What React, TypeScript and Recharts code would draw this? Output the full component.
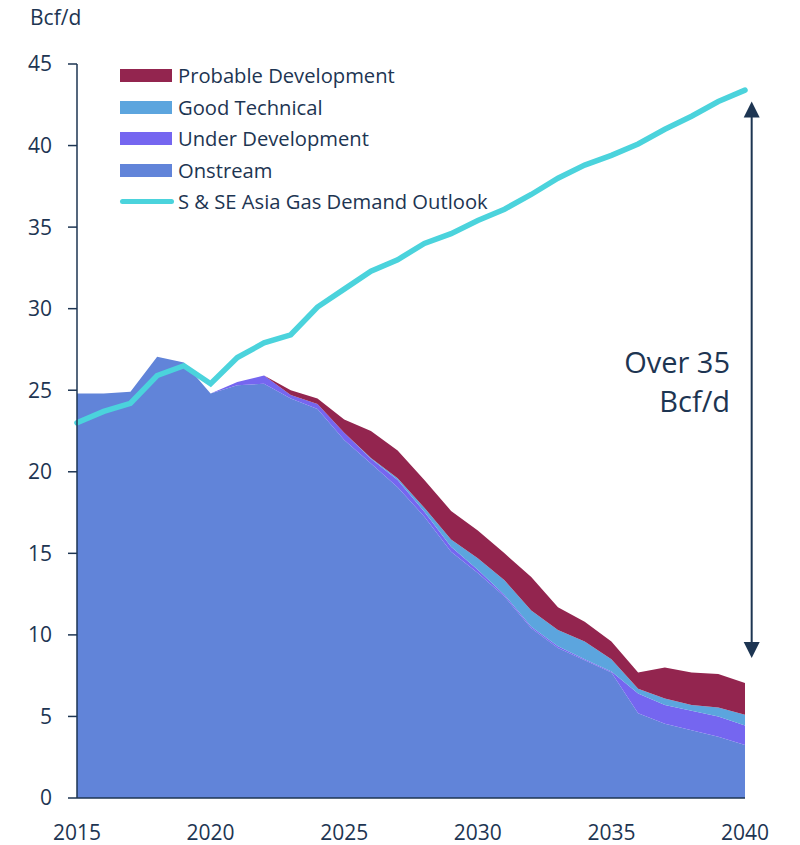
import { ComposedChart, Area, Line, XAxis, YAxis, Legend, ReferenceLine, ReferenceDot } from "recharts"

const years = [2015, 2016, 2017, 2018, 2019, 2020, 2021, 2022, 2023, 2024, 2025, 2026, 2027, 2028, 2029, 2030, 2031, 2032, 2033, 2034, 2035, 2036, 2037, 2038, 2039, 2040]
const onstream = [24.8, 24.8, 24.9, 27.05, 26.7, 24.8, 25.3, 25.4, 24.5, 23.85, 21.95, 20.5, 19.05, 17.25, 15.1, 13.8, 12.35, 10.4, 9.2, 8.45, 7.7, 5.2, 4.55, 4.15, 3.75, 3.25]
const underDevelopment = [0, 0, 0, 0, 0, 0, 0.2, 0.5, 0.2, 0.3, 0.45, 0.3, 0.45, 0.3, 0.3, 0.2, 0.1, 0.1, 0.1, 0.05, 0.05, 1.2, 1.15, 1.2, 1.25, 1.2]
const goodTechnical = [0, 0, 0, 0, 0, 0, 0, 0, 0, 0, 0, 0.05, 0.1, 0.25, 0.45, 0.7, 0.9, 1.0, 1.0, 1.1, 0.75, 0.3, 0.4, 0.35, 0.55, 0.65]
const probableDevelopment = [0, 0, 0, 0, 0, 0, 0, 0, 0.3, 0.35, 0.8, 1.65, 1.7, 1.7, 1.75, 1.7, 1.65, 2.05, 1.4, 1.2, 1.1, 1.0, 1.9, 2.0, 2.05, 1.95]
const demandOutlook = [23.0, 23.7, 24.2, 25.9, 26.5, 25.4, 27.0, 27.9, 28.4, 30.1, 31.2, 32.3, 33.0, 34.0, 34.6, 35.4, 36.1, 37.0, 38.0, 38.8, 39.4, 40.1, 41.0, 41.8, 42.7, 43.4]

const xTicks = [2015, 2020, 2025, 2030, 2035, 2040]
const yTicks = [0, 5, 10, 15, 20, 25, 30, 35, 40, 45]

const data = years.map((year, i) => ({
  year,
  onstream: onstream[i],
  underDevelopment: underDevelopment[i],
  goodTechnical: goodTechnical[i],
  probableDevelopment: probableDevelopment[i],
  demand: demandOutlook[i],
}))

const INK = "#1d3552"
const FONT = "'Open Sans', 'Noto Sans', sans-serif"

const legendItems = [
  { label: "Probable Development", color: "#93254f", kind: "area" },
  { label: "Good Technical", color: "#5ca5de", kind: "area" },
  { label: "Under Development", color: "#7566f0", kind: "area" },
  { label: "Onstream", color: "#6184d9", kind: "area" },
  { label: "S & SE Asia Gas Demand Outlook", color: "#4bd3dc", kind: "line" },
]

function ChartLegend() {
  return (
    <div style={{ fontFamily: FONT, fontSize: 20.2, color: INK, lineHeight: "31.5px" }}>
      {legendItems.map((item) => (
        <div key={item.label} style={{ display: "flex", alignItems: "center", whiteSpace: "nowrap" }}>
          {item.kind === "area" ? (
            <span style={{ display: "inline-block", width: 52, height: 13, background: item.color, marginRight: 6 }} />
          ) : (
            <span style={{ display: "inline-block", width: 54, height: 5, borderRadius: 3, background: item.color, marginRight: 4 }} />
          )}
          {item.label}
        </div>
      ))}
    </div>
  )
}

const upHead = (props: any) => (
  <path d={`M${props.cx},${props.cy} L${props.cx - 8},${props.cy + 16} L${props.cx + 8},${props.cy + 16} Z`} fill={INK} />
)
const downHead = (props: any) => (
  <path d={`M${props.cx},${props.cy} L${props.cx - 8},${props.cy - 16} L${props.cx + 8},${props.cy - 16} Z`} fill={INK} />
)
const note = (props: any) => (
  <text x={props.cx} y={props.cy} textAnchor="end" fill={INK} fontFamily={FONT} fontSize={29}>
    <tspan x={props.cx} dy={-7}>Over 35</tspan>
    <tspan x={props.cx} dy={39}>Bcf/d</tspan>
  </text>
)

export default function App() {
  return (
    <div style={{ position: "absolute", left: 0, top: 0, width: 800, height: 845, background: "#fff" }}>
      <div style={{ position: "absolute", left: 30, top: 3, fontFamily: FONT, fontSize: 21, color: INK }}>Bcf/d</div>
      <ComposedChart width={800} height={845} data={data} margin={{ top: 64, right: 55, bottom: 7, left: 0 }}>
        <XAxis
          dataKey="year"
          type="number"
          domain={[2015, 2040]}
          ticks={xTicks}
          tickLine={false}
          tickSize={0}
          tickMargin={27}
          height={40}
          axisLine={{ stroke: INK, strokeWidth: 1.5 }}
          tick={{ fill: INK, fontSize: 21, fontFamily: FONT }}
          interval={0}
        />
        <YAxis
          type="number"
          domain={[0, 45]}
          ticks={yTicks}
          width={77}
          tickSize={9}
          tickMargin={16}
          axisLine={{ stroke: INK, strokeWidth: 1.5 }}
          tickLine={{ stroke: INK, strokeWidth: 1.5 }}
          tick={{ fill: INK, fontSize: 21, fontFamily: FONT }}
          interval={0}
        />
        <Area type="linear" dataKey="onstream" stackId="s" stroke="none" fill="#6184d9" fillOpacity={1} isAnimationActive={false} />
        <Area type="linear" dataKey="underDevelopment" stackId="s" stroke="none" fill="#7566f0" fillOpacity={1} isAnimationActive={false} />
        <Area type="linear" dataKey="goodTechnical" stackId="s" stroke="none" fill="#5ca5de" fillOpacity={1} isAnimationActive={false} />
        <Area type="linear" dataKey="probableDevelopment" stackId="s" stroke="none" fill="#93254f" fillOpacity={1} isAnimationActive={false} />
        <Line type="linear" dataKey="demand" stroke="#4bd3dc" strokeWidth={5.5} dot={false} strokeLinecap="round" isAnimationActive={false} />
        <ReferenceLine
          segment={[{ x: 2040.25, y: 9.3 }, { x: 2040.25, y: 42.0 }]}
          stroke={INK}
          strokeWidth={2}
          ifOverflow="visible"
        />
        <ReferenceDot x={2040.25} y={42.7} ifOverflow="visible" shape={upHead} />
        <ReferenceDot x={2040.25} y={8.58} ifOverflow="visible" shape={downHead} />
        <ReferenceDot x={2039.44} y={25.6} ifOverflow="visible" shape={note} />
        <Legend
          layout="vertical"
          align="center"
          verticalAlign="middle"
          content={() => <ChartLegend />}
          wrapperStyle={{ position: "absolute", left: 120, top: 60, width: 420, height: 160 }}
        />
      </ComposedChart>
    </div>
  )
}
